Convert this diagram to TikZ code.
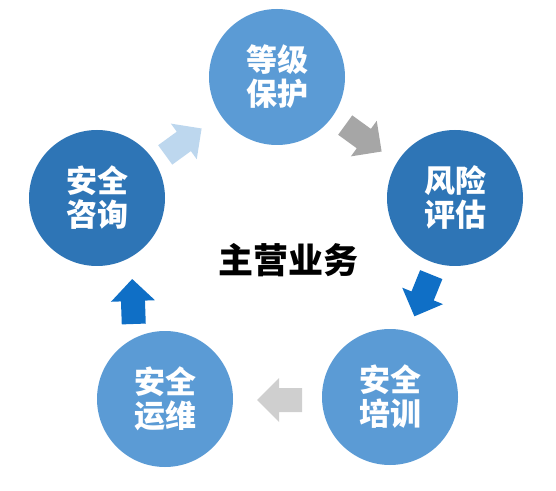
\documentclass[tikz,border=0pt]{standalone}
\usepackage{fontspec}
\newfontfamily\cjk{Noto Sans CJK SC}
\definecolor{lightblue}{HTML}{5B9BD5}
\definecolor{darkblue}{HTML}{2E75B6}
\definecolor{paleblue}{HTML}{BDD7EE}
\definecolor{arrowblue}{HTML}{0F6FC6}
\definecolor{midgray}{HTML}{A6A6A6}
\definecolor{lightgray}{HTML}{CFCFCF}
\tikzset{
  svc/.style={circle, minimum size=136pt, inner sep=0pt, text=white, align=center,
    font=\cjk\bfseries\fontsize{31}{34}\selectfont},
  blockarrow/.pic={\path[pic actions] (-22,-12) -- (1,-12) -- (1,-22) -- (23,0) -- (1,22) -- (1,12) -- (-22,12) -- cycle;}
}
\begin{document}
\begin{tikzpicture}[x=1pt,y=1pt]
\useasboundingbox (0,0) rectangle (556,490);
\node[svc, fill=lightblue] (dj) at (277,413) {等级\\保护};
\node[svc, fill=darkblue] (fx) at (455,292) {风险\\评估};
\node[svc, fill=lightblue] (px) at (390,93) {安全\\培训};
\node[svc, fill=lightblue] (yw) at (165,91) {安全\\运维};
\node[svc, fill=darkblue] (zx) at (97,292) {安全\\咨询};
\node[font=\cjk\bfseries\fontsize{35}{38}\selectfont] (zy) at (288,230) {主营业务};
\pic[fill=paleblue, rotate=36] at (183,348) {blockarrow};
\pic[fill=midgray, rotate=-36] at (363,352) {blockarrow};
\pic[fill=arrowblue, rotate=-112] at (423,195) {blockarrow};
\pic[fill=lightgray, rotate=180] at (280,90) {blockarrow};
\pic[fill=arrowblue, rotate=92] at (133,188) {blockarrow};
\end{tikzpicture}
\end{document}
